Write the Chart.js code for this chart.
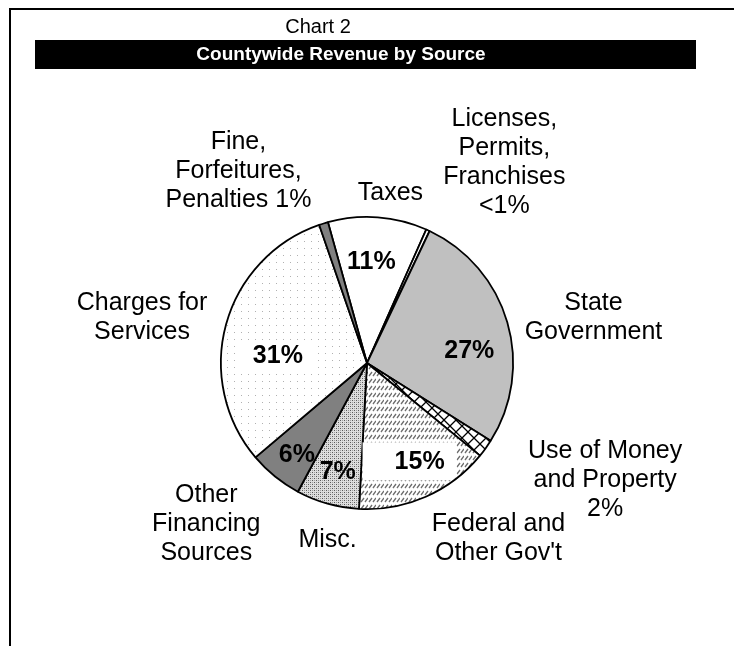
<!DOCTYPE html>
<html>
<head>
<meta charset="utf-8">
<script src="https://cdn.jsdelivr.net/npm/chart.js@4.4.1/dist/chart.umd.min.js"></script>
<style>
  html, body { margin: 0; padding: 0; background: #ffffff; }
  #revenueChart { display: block; }
</style>
</head>
<body>
<canvas id="revenueChart" width="734" height="646"></canvas>
<script>
/* Countywide revenue shares, in percent, clockwise from Taxes */
var sourceNames = ['Taxes', 'Licenses, Permits, Franchises', 'State Government',
  'Use of Money and Property', "Federal and Other Gov't", 'Misc.',
  'Other Financing Sources', 'Charges for Services', 'Fine, Forfeitures, Penalties'];
var sourceShares = [11, 0.4, 27, 2, 15, 7, 6, 31, 1];

/* text written on the slices and next to them */
var insideLabels = ['11%', '', '27%', '', '15%', '7%', '6%', '31%', ''];
var outsideLabels = [
  ['Taxes'],
  ['Licenses,', 'Permits,', 'Franchises', '<1%'],
  ['State', 'Government'],
  ['Use of Money', 'and Property', '2%'],
  ['Federal and', "Other Gov't"],
  ['Misc.'],
  ['Other', 'Financing', 'Sources'],
  ['Charges for', 'Services'],
  ['Fine,', 'Forfeitures,', 'Penalties 1%']
];

var chartNumber = 'Chart 2';
var chartTitle = 'Countywide Revenue by Source';

/* label anchors, measured from the pie centre in units of the radius */
var insideSpots = [[0.03, -0.69], null, [0.70, -0.08], null, [0.36, 0.68],
  [-0.20, 0.75], [-0.48, 0.63], [-0.61, -0.05], null];
var outsideSpots = [[0.16, -1.16], [0.94, -1.37], [1.55, -0.31], [1.63, 0.80],
  [0.90, 1.20], [-0.27, 1.21], [-1.10, 1.10], [-1.54, -0.31], [-0.88, -1.31]];
/* white boxes behind some percentages: [left, right, top, bottom] padding */
var labelBoxes = [null, null, null, null, [32, 12, 20, 18], null, null, [14, 14, 14, 14], null];

/* small repeating fills for the hatched slices */
function makePattern(w, h, draw) {
  var c = document.createElement('canvas');
  c.width = w;
  c.height = h;
  var g = c.getContext('2d');
  g.fillStyle = '#ffffff';
  g.fillRect(0, 0, w, h);
  draw(g);
  return g.createPattern(c, 'repeat');
}

var sparseDots = makePattern(7, 7, function(g) {
  g.fillStyle = '#b0b0b0';
  g.fillRect(3, 3, 1, 1);
});
var denseDots = makePattern(4, 4, function(g) {
  g.fillStyle = '#dedede';
  g.fillRect(0, 0, 4, 4);
  g.fillStyle = '#5a5a5a';
  g.fillRect(0, 0, 1, 1);
  g.fillRect(2, 2, 1, 1);
  g.fillStyle = '#a0a0a0';
  g.fillRect(2, 0, 1, 1);
  g.fillRect(0, 2, 1, 1);
});
var slashDashes = makePattern(8, 7, function(g) {
  g.strokeStyle = '#6e6e6e';
  g.lineWidth = 1.3;
  g.beginPath();
  g.moveTo(1, 5);
  g.lineTo(4, 1);
  g.moveTo(5, 5);
  g.lineTo(8, 1);
  g.stroke();
});
var crossHatch = makePattern(12, 12, function(g) {
  g.strokeStyle = '#000000';
  g.lineWidth = 1.3;
  g.beginPath();
  g.moveTo(0, 0);
  g.lineTo(12, 12);
  g.moveTo(12, 0);
  g.lineTo(0, 12);
  g.stroke();
});

var sliceFills = ['#ffffff', '#ffffff', '#c0c0c0', crossHatch, slashDashes,
  denseDots, '#808080', sparseDots, '#808080'];

/* frame, heading and title bar */
var headingPlugin = {
  id: 'heading',
  beforeDraw: function(chart) {
    var ctx = chart.ctx;
    ctx.save();
    ctx.fillStyle = '#ffffff';
    ctx.fillRect(0, 0, chart.width, chart.height);
    ctx.strokeStyle = '#000000';
    ctx.lineWidth = 2;
    ctx.beginPath();
    ctx.moveTo(10, chart.height + 2);
    ctx.lineTo(10, 9);
    ctx.lineTo(chart.width + 2, 9);
    ctx.stroke();

    ctx.fillStyle = '#000000';
    ctx.font = '20px "Liberation Sans", Arial, sans-serif';
    ctx.textAlign = 'center';
    ctx.textBaseline = 'middle';
    ctx.fillText(chartNumber, 318, 27);

    ctx.fillRect(35, 40, 661, 29);
    ctx.fillStyle = '#ffffff';
    ctx.font = 'bold 19px "Liberation Sans", Arial, sans-serif';
    ctx.fillText(chartTitle, 341, 55);
    ctx.restore();
  }
};

/* percentages on the slices and names around the pie */
var sliceLabelPlugin = {
  id: 'sliceLabels',
  afterDatasetsDraw: function(chart) {
    var ctx = chart.ctx;
    var arcs = chart.getDatasetMeta(0).data;
    if (!arcs.length) return;
    var cx = arcs[0].x;
    var cy = arcs[0].y;
    var r = arcs[0].outerRadius;
    ctx.save();
    ctx.textAlign = 'center';
    ctx.textBaseline = 'middle';

    ctx.font = 'bold 25px "Liberation Sans", Arial, sans-serif';
    for (var i = 0; i < arcs.length; i++) {
      if (!insideSpots[i]) continue;
      var x = cx + insideSpots[i][0] * r;
      var y = cy + insideSpots[i][1] * r;
      if (labelBoxes[i]) {
        var w = ctx.measureText(insideLabels[i]).width;
        var b = labelBoxes[i];
        ctx.save();
        ctx.beginPath();
        ctx.arc(cx, cy, r - 1, 0, Math.PI * 2);
        ctx.clip();
        ctx.fillStyle = '#ffffff';
        ctx.fillRect(x - w / 2 - b[0], y - b[2], w + b[0] + b[1], b[2] + b[3]);
        ctx.restore();
      }
      ctx.fillStyle = '#000000';
      ctx.fillText(insideLabels[i], x, y);
    }

    ctx.font = '25px "Liberation Sans", Arial, sans-serif';
    ctx.fillStyle = '#000000';
    var lineGap = 29;
    for (var j = 0; j < arcs.length; j++) {
      var lines = outsideLabels[j];
      var ox = cx + outsideSpots[j][0] * r;
      var oy = cy + outsideSpots[j][1] * r - (lines.length - 1) * lineGap / 2;
      for (var k = 0; k < lines.length; k++) {
        ctx.fillText(lines[k], ox, oy + k * lineGap);
      }
    }
    ctx.restore();
  }
};

var ctx = document.getElementById('revenueChart');
var revenueChart = new Chart(ctx, {
  type: 'pie',
  data: {
    labels: sourceNames,
    datasets: [{
      data: sourceShares,
      backgroundColor: sliceFills,
      borderColor: '#000000',
      borderWidth: 1.8
    }]
  },
  options: {
    responsive: false,
    animation: false,
    devicePixelRatio: 1,
    rotation: -15.5,
    layout: {
      padding: { left: 220, right: 220, top: 216, bottom: 136 }
    },
    plugins: {
      legend: { display: false },
      tooltip: { enabled: false },
      title: { display: false }
    }
  },
  plugins: [headingPlugin, sliceLabelPlugin]
});
</script>
</body>
</html>
